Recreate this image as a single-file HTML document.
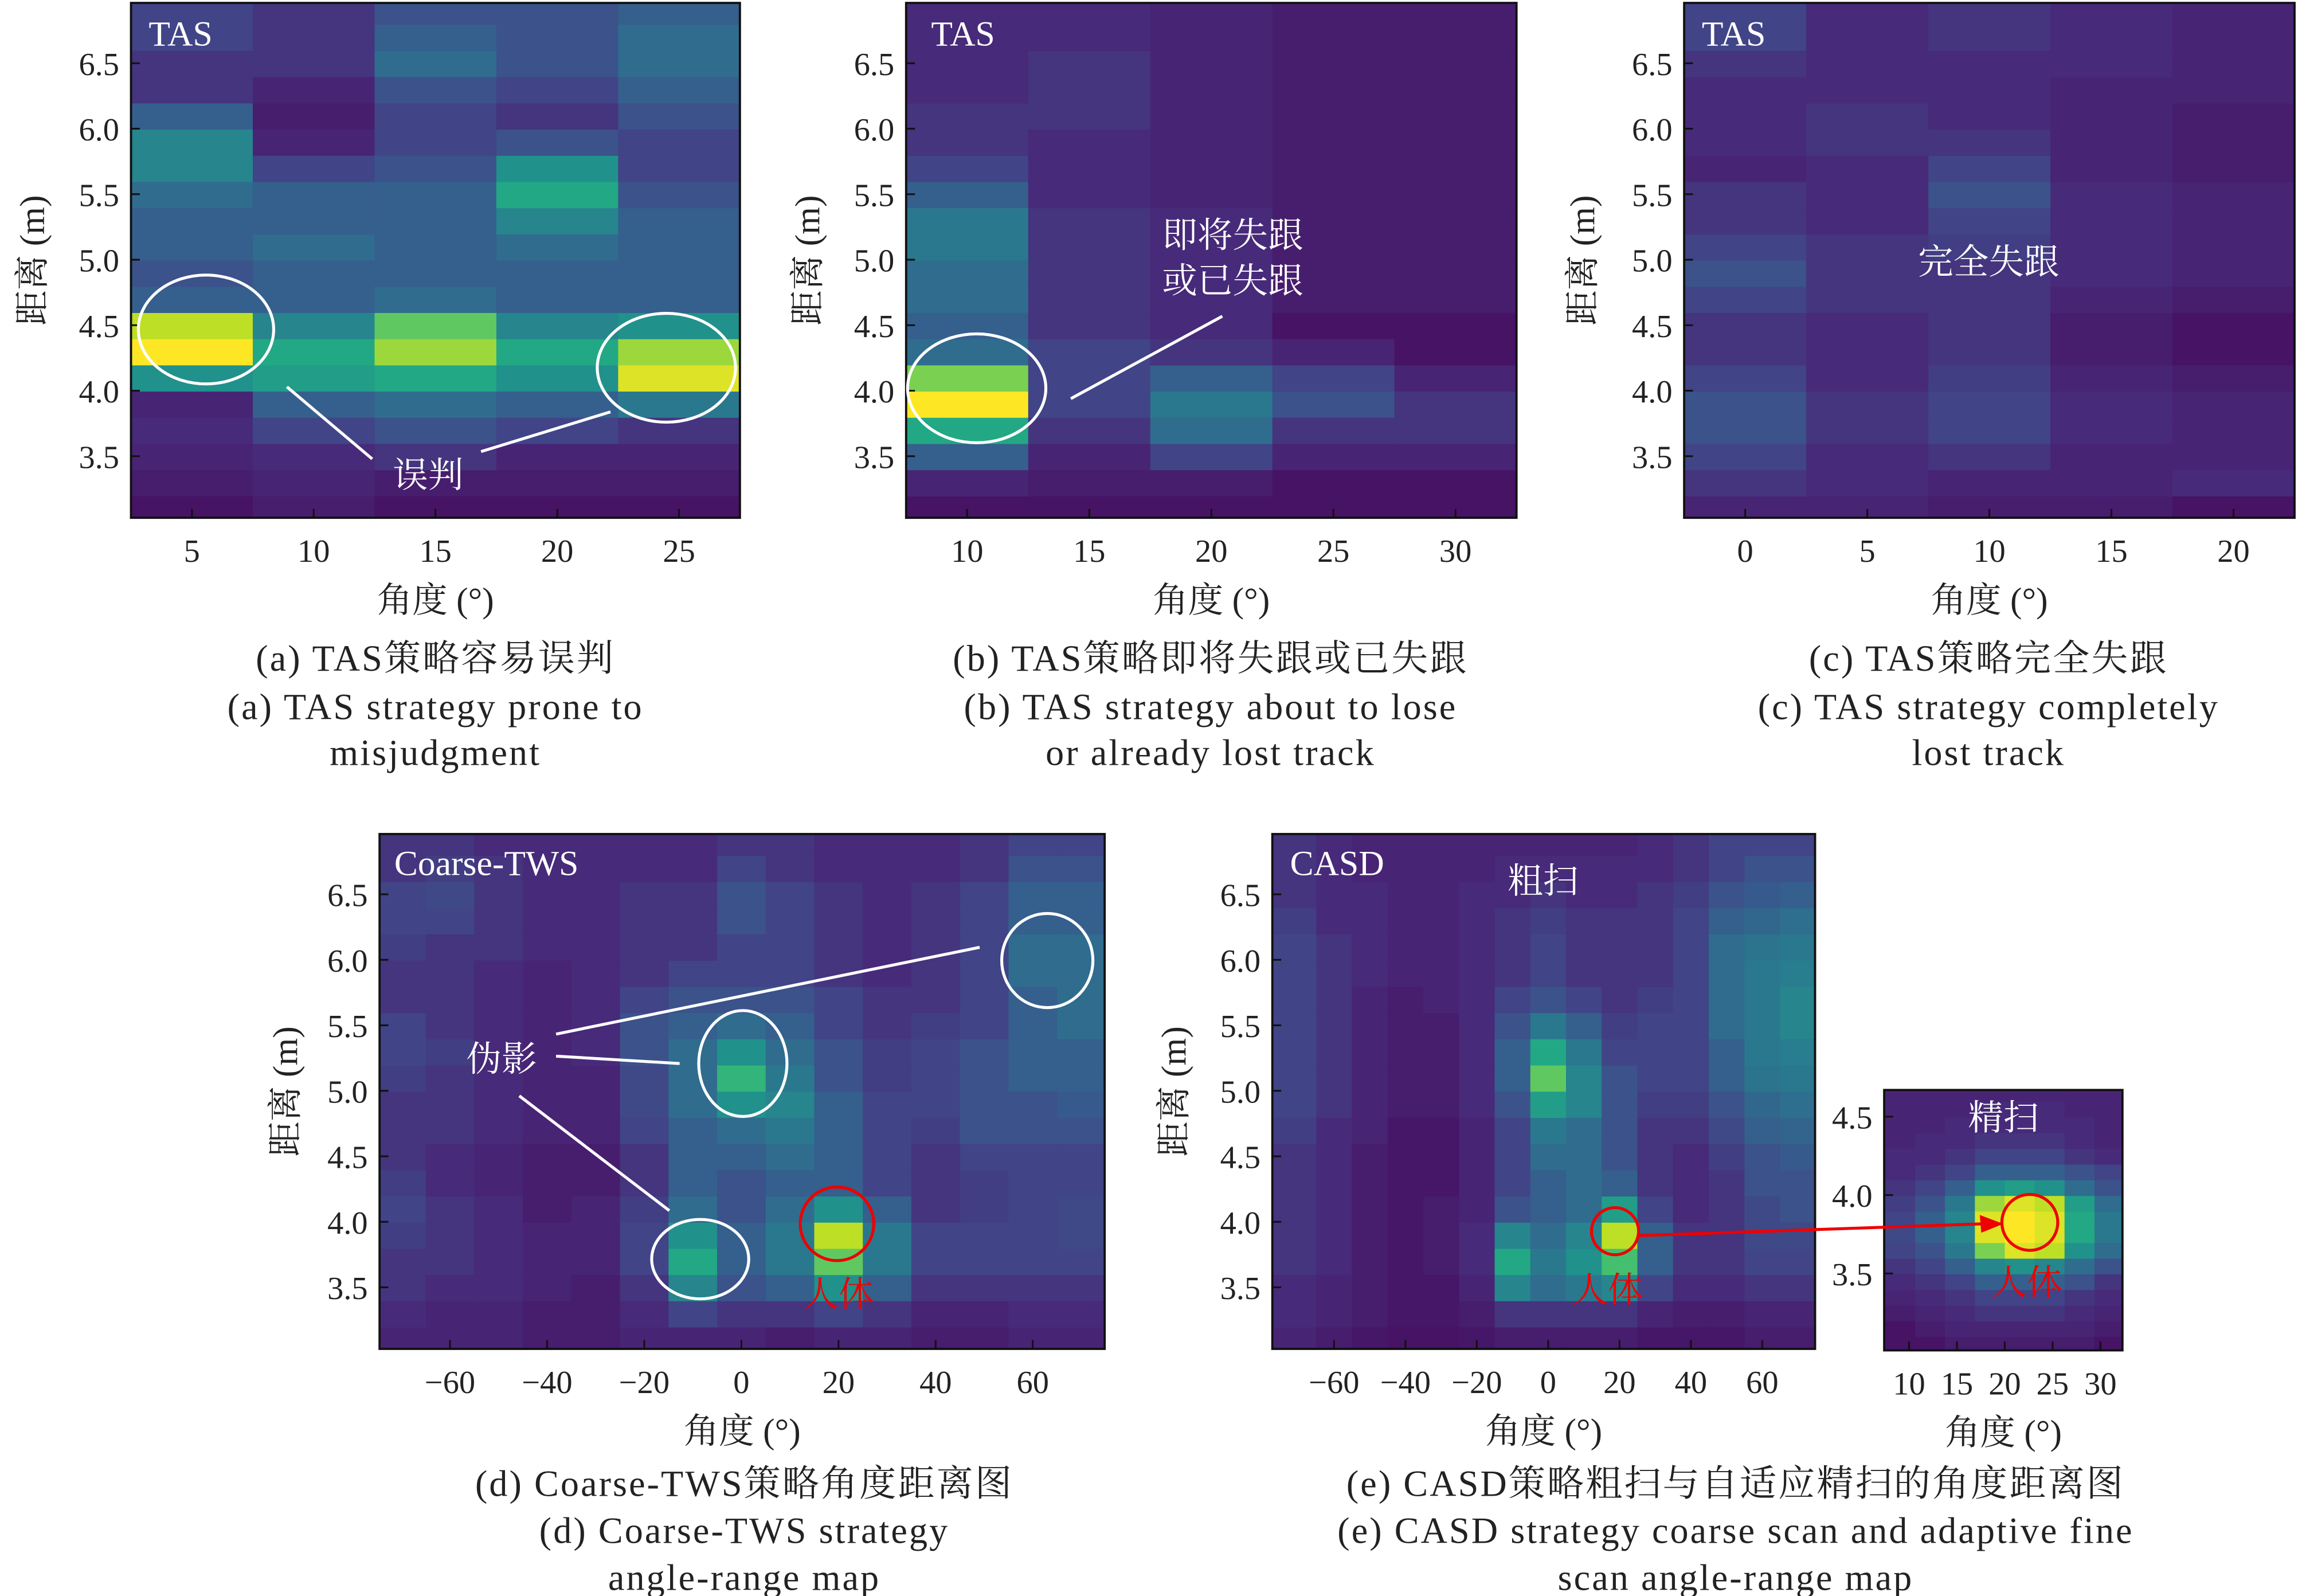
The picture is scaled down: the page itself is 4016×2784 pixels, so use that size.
<!DOCTYPE html>
<html><head><meta charset="utf-8">
<style>
html,body{margin:0;padding:0;background:#fff;}
svg{display:block;}
text{font-family:"Liberation Serif","Noto Serif CJK SC",serif;}
</style></head>
<body>
<svg id="fig" width="4016" height="2784" viewBox="0 0 1565 1085" xmlns="http://www.w3.org/2000/svg">
<g id="maps"></g>
<g id="axes"></g>
<g id="annot" fill="none" stroke="#fff" stroke-width="2">
  <ellipse cx="140" cy="224" rx="46" ry="37"/>
  <ellipse cx="453" cy="250" rx="47" ry="37"/>
  <line x1="195" y1="263" x2="253" y2="312"/><line x1="327" y1="307" x2="415" y2="280"/>
  <ellipse cx="664" cy="264" rx="47" ry="37"/>
  <line x1="728" y1="271" x2="831" y2="215"/>
  <ellipse cx="505" cy="723" rx="30" ry="36"/>
  <ellipse cx="476" cy="856" rx="33" ry="27"/>
  <ellipse cx="712" cy="653" rx="31" ry="32"/>
  <line x1="378" y1="703" x2="666" y2="644"/><line x1="378" y1="718" x2="462" y2="723"/><line x1="353" y1="745" x2="455" y2="823"/>
  <circle cx="569" cy="832" r="25" stroke="#e00"/>
  <circle cx="1098" cy="837" r="16" stroke="#e00"/>
  <circle cx="1380" cy="831" r="19" stroke="#e00"/>
  <line x1="1114" y1="840" x2="1348" y2="832" stroke="#e00"/>
  <polygon points="1362,832 1346,826 1347,838" fill="#e00" stroke="none"/>
</g>
<g font-size="24" fill="#fff">
  <text x="101" y="31">TAS</text><text x="633" y="31">TAS</text><text x="1157" y="31">TAS</text>
  <text x="268" y="595">Coarse-TWS</text><text x="877" y="595">CASD</text>
  <text x="1049" y="607" text-anchor="middle">粗扫</text>
  <text x="1362" y="768" text-anchor="middle">精扫</text>
  <text x="291" y="331" text-anchor="middle">误判</text>
  <text x="838" y="168" text-anchor="middle">即将失跟</text>
  <text x="838" y="199" text-anchor="middle">或已失跟</text>
  <text x="1352" y="186" text-anchor="middle">完全失跟</text>
  <text x="341" y="728" text-anchor="middle">伪影</text>
  <text x="570" y="888" text-anchor="middle" fill="#e00">人体</text>
  <text x="1093" y="885" text-anchor="middle" fill="#e00">人体</text>
  <text x="1378" y="880" text-anchor="middle" fill="#e00">人体</text>
</g>
<g font-size="25" fill="#222" text-anchor="middle" letter-spacing="1.2">
  <text x="296" y="456">(a) TAS策略容易误判</text>
  <text x="296" y="489">(a) TAS strategy prone to</text>
  <text x="296" y="520">misjudgment</text>
  <text x="823" y="456">(b) TAS策略即将失跟或已失跟</text>
  <text x="823" y="489">(b) TAS strategy about to lose</text>
  <text x="823" y="520">or already lost track</text>
  <text x="1352" y="456">(c) TAS策略完全失跟</text>
  <text x="1352" y="489">(c) TAS strategy completely</text>
  <text x="1352" y="520">lost track</text>
  <text x="506" y="1017">(d) Coarse-TWS策略角度距离图</text>
  <text x="506" y="1049">(d) Coarse-TWS strategy</text>
  <text x="506" y="1081">angle-range map</text>
  <text x="1180" y="1017">(e) CASD策略粗扫与自适应精扫的角度距离图</text>
  <text x="1180" y="1049">(e) CASD strategy coarse scan and adaptive fine</text>
  <text x="1180" y="1081">scan angle-range map</text>
</g>
</svg>
<script>
// ---- data: columns listed bottom (3.1 m) -> top (6.9 m), 0.2 m rows ----
const yTicks = [3.5,4.0,4.5,5.0,5.5,6.0,6.5];
const aCols = [5,10,15,20,25];
const aVals = [
[0.05,0.08,0.1,0.12,0.1,0.5,1.0,0.9,0.3,0.25,0.3,0.3,0.35,0.45,0.45,0.3,0.15,0.15,0.2,0.2],
[0.08,0.1,0.12,0.2,0.3,0.55,0.6,0.45,0.3,0.3,0.35,0.3,0.3,0.2,0.1,0.08,0.1,0.15,0.15,0.15],
[0.05,0.08,0.15,0.25,0.35,0.6,0.85,0.75,0.35,0.3,0.3,0.3,0.3,0.25,0.2,0.2,0.25,0.35,0.3,0.25],
[0.05,0.08,0.1,0.2,0.3,0.5,0.6,0.45,0.3,0.3,0.35,0.45,0.6,0.5,0.25,0.15,0.2,0.25,0.25,0.25],
[0.05,0.08,0.1,0.15,0.4,0.95,0.85,0.5,0.3,0.3,0.3,0.3,0.25,0.2,0.2,0.25,0.3,0.35,0.35,0.3]];
const aXTicks = [5,10,15,20,25];
const bCols = [10,15,20,25,30];
const bVals = [
[0.05,0.1,0.3,0.6,1.0,0.8,0.35,0.3,0.35,0.35,0.4,0.4,0.3,0.2,0.15,0.15,0.12,0.12,0.12,0.12],
[0.05,0.08,0.1,0.15,0.2,0.2,0.2,0.15,0.15,0.15,0.15,0.15,0.12,0.12,0.12,0.15,0.15,0.15,0.12,0.12],
[0.05,0.08,0.2,0.35,0.4,0.3,0.15,0.12,0.12,0.12,0.12,0.12,0.1,0.1,0.1,0.1,0.1,0.1,0.1,0.1],
[0.05,0.05,0.1,0.15,0.25,0.2,0.1,0.05,0.08,0.08,0.08,0.08,0.08,0.08,0.08,0.08,0.08,0.08,0.08,0.08],
[0.05,0.05,0.1,0.15,0.15,0.1,0.05,0.05,0.08,0.08,0.08,0.08,0.08,0.08,0.08,0.08,0.08,0.08,0.08,0.08]];
const bXTicks = [10,15,20,25,30];
const cCols = [0,5,10,15,20];
const cVals = [
[0.1,0.15,0.2,0.25,0.25,0.2,0.15,0.15,0.2,0.25,0.2,0.15,0.15,0.1,0.12,0.12,0.12,0.15,0.2,0.2],
[0.1,0.12,0.12,0.15,0.15,0.12,0.12,0.12,0.15,0.15,0.15,0.12,0.12,0.12,0.15,0.15,0.12,0.12,0.12,0.12],
[0.08,0.1,0.15,0.2,0.2,0.18,0.15,0.15,0.15,0.15,0.18,0.2,0.25,0.2,0.15,0.12,0.12,0.12,0.15,0.15],
[0.08,0.1,0.1,0.12,0.12,0.1,0.08,0.08,0.1,0.12,0.12,0.12,0.12,0.1,0.1,0.1,0.1,0.12,0.12,0.12],
[0.05,0.12,0.1,0.1,0.1,0.08,0.05,0.05,0.08,0.1,0.1,0.1,0.1,0.08,0.08,0.08,0.1,0.1,0.1,0.1]];
const cXTicks = [0,5,10,15,20];
const dCols = [-70,-60,-50,-40,-30,-20,-10,0,10,20,30,40,50,60,70];
const dVals = [
[0.1,0.12,0.15,0.15,0.18,0.2,0.18,0.15,0.15,0.15,0.18,0.2,0.2,0.15,0.15,0.18,0.2,0.2,0.15,0.15],
[0.1,0.1,0.12,0.15,0.15,0.15,0.12,0.12,0.15,0.15,0.15,0.18,0.15,0.15,0.15,0.15,0.2,0.22,0.18,0.15],
[0.1,0.1,0.12,0.12,0.12,0.12,0.1,0.1,0.12,0.12,0.12,0.12,0.12,0.12,0.12,0.15,0.15,0.15,0.15,0.12],
[0.08,0.08,0.1,0.1,0.1,0.08,0.08,0.08,0.1,0.1,0.1,0.1,0.1,0.1,0.1,0.12,0.12,0.12,0.12,0.12],
[0.08,0.08,0.08,0.1,0.1,0.1,0.08,0.08,0.1,0.1,0.1,0.12,0.12,0.12,0.12,0.12,0.12,0.12,0.12,0.12],
[0.1,0.12,0.15,0.2,0.2,0.18,0.15,0.15,0.2,0.22,0.22,0.25,0.25,0.2,0.15,0.15,0.15,0.15,0.12,0.12],
[0.1,0.2,0.45,0.6,0.5,0.35,0.3,0.3,0.3,0.35,0.35,0.35,0.3,0.25,0.2,0.15,0.15,0.15,0.12,0.12],
[0.1,0.15,0.25,0.3,0.3,0.25,0.25,0.3,0.35,0.5,0.65,0.5,0.35,0.25,0.2,0.2,0.25,0.25,0.2,0.15],
[0.08,0.15,0.3,0.4,0.4,0.35,0.3,0.35,0.4,0.45,0.4,0.35,0.3,0.25,0.2,0.2,0.2,0.2,0.15,0.15],
[0.1,0.2,0.5,0.75,0.9,0.5,0.3,0.3,0.3,0.3,0.25,0.25,0.2,0.2,0.15,0.15,0.15,0.15,0.12,0.12],
[0.1,0.15,0.3,0.4,0.4,0.3,0.2,0.2,0.2,0.2,0.18,0.18,0.15,0.15,0.12,0.12,0.12,0.12,0.12,0.12],
[0.08,0.1,0.15,0.2,0.2,0.15,0.15,0.15,0.18,0.2,0.2,0.2,0.18,0.15,0.15,0.15,0.15,0.15,0.12,0.12],
[0.08,0.1,0.15,0.2,0.2,0.18,0.18,0.2,0.25,0.25,0.25,0.25,0.2,0.2,0.2,0.2,0.2,0.2,0.15,0.15],
[0.1,0.12,0.15,0.2,0.2,0.2,0.2,0.2,0.25,0.25,0.3,0.3,0.3,0.3,0.35,0.35,0.3,0.3,0.25,0.2],
[0.1,0.12,0.15,0.2,0.22,0.22,0.2,0.2,0.25,0.28,0.3,0.3,0.35,0.35,0.35,0.35,0.3,0.3,0.25,0.2]];
const dXTicks = [-60,-40,-20,0,20,40,60];
const eCols = [-70,-60,-50,-40,-30,-20,-10,0,10,20,30,40,50,60,70];
const eVals = [
[0.1,0.12,0.12,0.15,0.15,0.15,0.15,0.15,0.18,0.2,0.2,0.2,0.2,0.2,0.2,0.2,0.18,0.15,0.15,0.15],
[0.08,0.1,0.1,0.12,0.12,0.12,0.12,0.12,0.12,0.15,0.15,0.15,0.15,0.15,0.15,0.15,0.12,0.12,0.12,0.12],
[0.06,0.08,0.08,0.08,0.08,0.08,0.08,0.08,0.1,0.1,0.1,0.1,0.1,0.1,0.12,0.12,0.12,0.12,0.1,0.1],
[0.05,0.06,0.06,0.06,0.06,0.06,0.06,0.06,0.06,0.08,0.08,0.08,0.08,0.08,0.1,0.1,0.1,0.1,0.1,0.1],
[0.05,0.06,0.06,0.08,0.08,0.08,0.06,0.06,0.06,0.08,0.08,0.08,0.08,0.1,0.1,0.1,0.1,0.1,0.1,0.1],
[0.06,0.08,0.1,0.12,0.12,0.1,0.1,0.1,0.1,0.12,0.12,0.12,0.12,0.12,0.12,0.12,0.12,0.12,0.1,0.1],
[0.08,0.15,0.45,0.6,0.45,0.25,0.2,0.2,0.2,0.25,0.3,0.3,0.25,0.2,0.15,0.15,0.15,0.12,0.12,0.1],
[0.08,0.15,0.35,0.4,0.35,0.3,0.3,0.35,0.4,0.55,0.75,0.6,0.4,0.25,0.2,0.2,0.18,0.15,0.12,0.1],
[0.08,0.15,0.4,0.5,0.45,0.35,0.35,0.35,0.35,0.45,0.45,0.4,0.3,0.2,0.15,0.15,0.15,0.12,0.12,0.1],
[0.08,0.15,0.45,0.7,0.9,0.55,0.3,0.25,0.25,0.25,0.25,0.2,0.18,0.15,0.15,0.15,0.15,0.12,0.12,0.1],
[0.06,0.1,0.2,0.3,0.3,0.2,0.15,0.15,0.15,0.18,0.2,0.2,0.2,0.18,0.15,0.15,0.15,0.15,0.12,0.12],
[0.06,0.08,0.12,0.15,0.15,0.12,0.12,0.12,0.15,0.18,0.2,0.2,0.2,0.2,0.2,0.2,0.2,0.18,0.15,0.15],
[0.06,0.08,0.12,0.15,0.15,0.15,0.15,0.18,0.22,0.25,0.3,0.3,0.35,0.35,0.35,0.35,0.3,0.25,0.2,0.2],
[0.08,0.1,0.15,0.2,0.22,0.22,0.25,0.25,0.3,0.33,0.38,0.4,0.4,0.4,0.4,0.38,0.33,0.28,0.25,0.2],
[0.08,0.1,0.15,0.2,0.22,0.25,0.25,0.28,0.32,0.36,0.4,0.42,0.45,0.45,0.42,0.4,0.36,0.3,0.25,0.2]];
const eXTicks = [-60,-40,-20,0,20,40,60];
// fine scan: rows bottom (3.05 m) -> top (4.65 m), 0.1 m rows
const fCols = [9.06,12.19,15.31,18.44,21.56,24.69,27.81,30.94];
const fVals = [
[0.05,0.05,0.08,0.1,0.12,0.15,0.2,0.22,0.2,0.18,0.15,0.12,0.12,0.1,0.1,0.1,0.1],
[0.05,0.08,0.1,0.12,0.15,0.2,0.25,0.3,0.3,0.25,0.2,0.15,0.12,0.12,0.1,0.1,0.1],
[0.08,0.1,0.12,0.15,0.2,0.3,0.4,0.45,0.45,0.4,0.3,0.2,0.15,0.12,0.12,0.1,0.1],
[0.08,0.1,0.15,0.2,0.3,0.45,0.8,0.95,0.95,0.85,0.5,0.3,0.2,0.15,0.12,0.12,0.1],
[0.08,0.1,0.15,0.2,0.3,0.5,0.95,1.0,1.0,0.95,0.55,0.3,0.2,0.15,0.12,0.12,0.1],
[0.08,0.1,0.15,0.2,0.3,0.45,0.9,0.95,0.95,0.9,0.5,0.3,0.2,0.15,0.12,0.12,0.1],
[0.08,0.1,0.12,0.15,0.25,0.35,0.5,0.6,0.6,0.55,0.35,0.25,0.15,0.12,0.12,0.1,0.1],
[0.05,0.08,0.1,0.12,0.15,0.25,0.35,0.4,0.4,0.35,0.25,0.2,0.12,0.1,0.1,0.1,0.1]];
const fXTicks = [10,15,20,25,30];
const fYTicks = [3.5,4.0,4.5];

const VIR = ["#440154","#482475","#414487","#355f8d","#2a788e","#21918c","#22a884","#44bf70","#7ad151","#bddf26","#fde725"];
function hex(h){return [1,3,5].map(i=>parseInt(h.substr(i,2),16));}
function viridis(v){v=Math.max(0,Math.min(1,v))*10;const i=Math.min(9,Math.floor(v)),t=v-i;
 const a=hex(VIR[i]),b=hex(VIR[i+1]);return "rgb("+a.map((c,k)=>Math.round(c+(b[k]-c)*t)).join(",")+")";}
const NS="http://www.w3.org/2000/svg";
function mk(tag,attrs,parent){const e=document.createElementNS(NS,tag);for(const k in attrs)e.setAttribute(k,attrs[k]);parent.appendChild(e);return e;}
const maps=document.getElementById('maps'), axes=document.getElementById('axes');

function panel(p){
 const sx=a=>p.px0+(a-p.x0)*(p.px1-p.px0)/(p.x1-p.x0);
 const sy=r=>p.py0+(p.y1-r)*(p.py1-p.py0)/(p.y1-p.y0);
 const g=mk('g',{'clip-path':'url(#clip-'+p.id+')'},maps);
 
 
 const cp=mk('clipPath',{id:'clip-'+p.id},maps);
 mk('rect',{x:p.px0,y:p.py0,width:p.px1-p.px0,height:p.py1-p.py0},cp);
 mk('rect',{x:p.px0,y:p.py0,width:p.px1-p.px0,height:p.py1-p.py0,fill:viridis(0.08)},g);
 p.cols.forEach((c,i)=>{
  let xa=sx(c-p.cw/2), xb=sx(c+p.cw/2);
  if(i===0) xa=Math.min(xa,p.px0); if(i===p.cols.length-1) xb=Math.max(xb,p.px1);
  p.vals[i].forEach((v,j)=>{
   const r0=p.r0+j*p.rh, r1=r0+p.rh;
   let ya=sy(r1), yb=sy(r0);
   if(j===p.vals[i].length-1) ya=Math.min(ya,p.py0);
   if(j===0) yb=Math.max(yb,p.py1);
   const cell=mk('rect',{x:xa.toFixed(2),y:ya.toFixed(2),width:(xb-xa+0.6).toFixed(2),height:(yb-ya+0.6).toFixed(2),fill:viridis(v)},g);
   
   
  });
 });
 const ax=mk('g',{},axes);
 
 
 mk('rect',{x:p.px0,y:p.py0,width:p.px1-p.px0,height:p.py1-p.py0,fill:'none',stroke:'#111','stroke-width':1.5},ax);
 p.xt.forEach(t=>{const x=sx(t);
  mk('line',{x1:x,y1:p.py1,x2:x,y2:p.py1-6,stroke:'#111','stroke-width':1.2},ax);
  const tx=mk('text',{x:x,y:p.py1+30,'font-size':p.fs,'text-anchor':'middle',fill:'#222'},ax);
  tx.textContent=(t<0?'−'+(-t):String(t));
  
  
 });
 p.yt.forEach(t=>{const y=sy(t);
  mk('line',{x1:p.px0,y1:y,x2:p.px0+6,y2:y,stroke:'#111','stroke-width':1.2},ax);
  const tx=mk('text',{x:p.px0-8,y:y+8,'font-size':p.fs,'text-anchor':'end',fill:'#222'},ax);
  tx.textContent=t.toFixed(1);
  
  
 });
 const xt=mk('text',{x:(p.px0+p.px1)/2,y:p.py1+64,'font-size':24,'text-anchor':'middle',fill:'#222'},ax);
 xt.textContent='角度 (°)';
 
 
 if(p.ytx){
  const yy=(p.py0+p.py1)/2;
  const yt=mk('text',{x:p.ytx,y:yy,'font-size':24,'text-anchor':'middle',fill:'#222',transform:'rotate(-90 '+p.ytx+' '+yy+')'},ax);
  yt.textContent='距离 (m)';
  
  
 }
}
const base={x:0,fs:22,r0:3.0,rh:0.2,y0:3.03,y1:6.96};
panel(Object.assign({},base,{id:'panel-a',cols:aCols,vals:aVals,cw:5,x0:2.5,x1:27.5,px0:89,px1:503,py0:2,py1:352,xt:aXTicks,yt:yTicks,ytx:30}));
panel(Object.assign({},base,{id:'panel-b',cols:bCols,vals:bVals,cw:5,x0:7.5,x1:32.5,px0:616,px1:1031,py0:2,py1:352,xt:bXTicks,yt:yTicks,ytx:557}));
panel(Object.assign({},base,{id:'panel-c',cols:cCols,vals:cVals,cw:5,x0:-2.5,x1:22.5,px0:1145,px1:1560,py0:2,py1:352,xt:cXTicks,yt:yTicks,ytx:1084}));
panel(Object.assign({},base,{id:'panel-d',cols:dCols,vals:dVals,cw:10,x0:-74.5,x1:74.8,px0:258,px1:751,py0:567,py1:917,xt:dXTicks,yt:yTicks,ytx:202}));
panel(Object.assign({},base,{id:'panel-e',cols:eCols,vals:eVals,cw:10,x0:-77.3,x1:74.8,px0:865,px1:1234,py0:567,py1:917,xt:eXTicks,yt:yTicks,ytx:806}));
panel(Object.assign({},base,{id:'panel-fine',cols:fCols,vals:fVals,cw:3.125,r0:3.0,rh:0.1,x0:7.4,x1:32.3,px0:1281,px1:1443,py0:741,py1:918,y0:3.01,y1:4.67,xt:fXTicks,yt:fYTicks,ytx:0}));
</script>
</body></html>
